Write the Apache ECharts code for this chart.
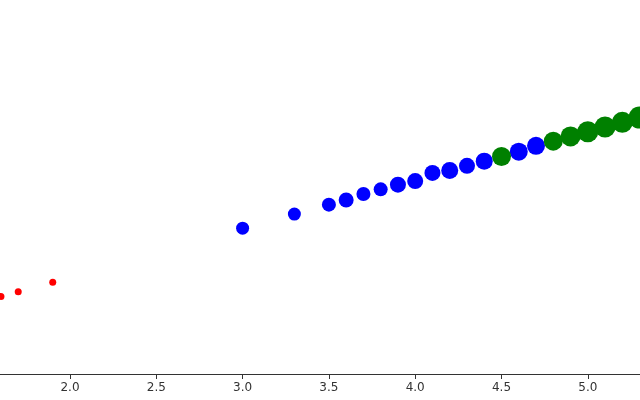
<!DOCTYPE html>
<html>
<head>
<meta charset="utf-8">
<script src="https://cdn.jsdelivr.net/npm/echarts@6/dist/echarts.min.js"></script>
<style>html,body{margin:0;padding:0;background:#fff;}#c{width:640px;height:400px;}</style>
</head>
<body>
<div id="c"></div>
<script>
// red group
const redX = [1.6, 1.7, 1.9];
const redY = [4.96, 5.00, 5.08];
const redSize = [7, 7, 7];
// blue group
const blueX = [3.0, 3.3, 3.5, 3.6, 3.7, 3.8, 3.9, 4.0, 4.1, 4.2, 4.3, 4.4, 4.6, 4.7];
const blueY = [5.54, 5.66, 5.74, 5.78, 5.83, 5.87, 5.91, 5.94, 6.01, 6.03, 6.07, 6.11, 6.19, 6.24];
const blueSize = [13, 13, 14, 15, 14, 14, 16, 16, 16, 17, 16, 17, 18, 18];
// green group
const greenX = [4.5, 4.8, 4.9, 5.0, 5.1, 5.2, 5.3];
const greenY = [6.15, 6.28, 6.32, 6.36, 6.40, 6.44, 6.48];
const greenSize = [19, 19, 20, 21, 21, 21, 22];
// x axis ticks
const xTicks = [1.5, 2.0, 2.5, 3.0, 3.5, 4.0, 4.5, 5.0, 5.5];

function pts(xs, ys, ss) { return xs.map((x, i) => [x, ys[i], ss[i]]); }

const chart = echarts.init(document.getElementById('c'), null, {renderer: 'canvas'});
chart.setOption({
  animation: false,
  backgroundColor: '#ffffff',
  grid: { left: -16.3, width: 690.4, top: 0, bottom: 26, containLabel: false, outerBoundsMode: 'none' },
  xAxis: {
    type: 'value',
    min: xTicks[0], max: xTicks[xTicks.length - 1], interval: 0.5,
    axisLine: { show: true, lineStyle: { color: '#333333', width: 1 } },
    axisTick: { show: true, length: 5, lineStyle: { color: '#333333' } },
    axisLabel: { color: '#333333', fontSize: 12, fontFamily: 'DejaVu Sans', margin: 8,
      formatter: v => v.toFixed(1) },
    splitLine: { show: false }
  },
  yAxis: {
    type: 'value', min: 4.3, max: 7.48, show: false,
    splitLine: { show: false }
  },
  series: [
    { type: 'scatter', data: pts(redX, redY, redSize), symbolSize: d => d[2],
      itemStyle: { color: '#ff0000', opacity: 1 } },
    { type: 'scatter', data: pts(blueX, blueY, blueSize), symbolSize: d => d[2],
      itemStyle: { color: '#0000ff', opacity: 1 } },
    { type: 'scatter', data: pts(greenX, greenY, greenSize), symbolSize: d => d[2],
      itemStyle: { color: '#008000', opacity: 1 } }
  ]
});
</script>
</body>
</html>
